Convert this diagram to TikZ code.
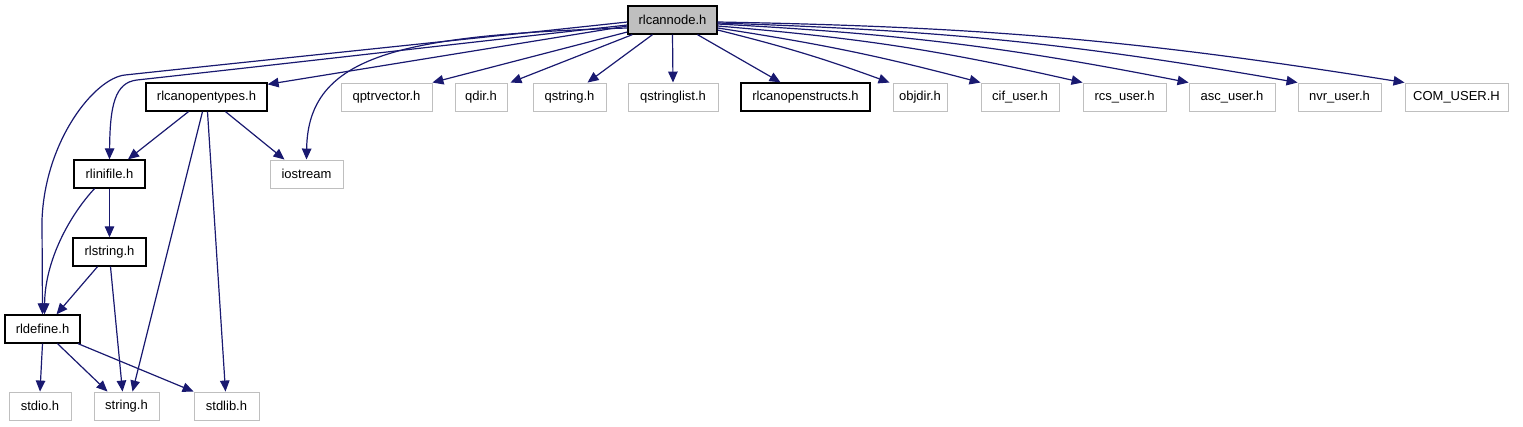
\documentclass[tikz,border=0pt]{standalone}
\usepackage{fontspec}
\setmainfont{Liberation Sans}
\usetikzlibrary{arrows.meta,calc}
\definecolor{edgeblue}{RGB}{25,25,112}
\definecolor{graybd}{RGB}{191,191,191}
\begin{document}
\begin{tikzpicture}[x=1pt,y=-1pt,
  box/.style={draw, rectangle, minimum height=28pt, inner sep=0pt, font=\fontsize{13}{15}\selectfont, line width=0.9pt},
  blk/.style={box, draw=black, line width=1.3pt},
  gry/.style={box, draw=graybd},
  rootbox/.style={blk, fill=graybd},
  edge/.style={draw=edgeblue, line width=1.2pt, -{Triangle[length=11pt,width=9.5pt]}}]
\useasboundingbox (0,0) rectangle (1523,427);
\node[rootbox, minimum width=89pt] (root) at (672.5,20) {rlcannode.h};
\node[blk, minimum width=121pt] (types) at (206.5,97) {rlcanopentypes.h};
\node[gry, minimum width=91pt] (qptr) at (386.5,97) {qptrvector.h};
\node[gry, minimum width=52pt] (qdir) at (481,97) {qdir.h};
\node[gry, minimum width=73pt] (qstring) at (569.5,97) {qstring.h};
\node[gry, minimum width=90pt] (qsl) at (673,97) {qstringlist.h};
\node[blk, minimum width=129pt] (structs) at (805.5,97) {rlcanopenstructs.h};
\node[gry, minimum width=54pt] (objdir) at (920,97) {objdir.h};
\node[gry, minimum width=78pt] (cif) at (1020,97) {cif\_user.h};
\node[gry, minimum width=83pt] (rcs) at (1124.5,97) {rcs\_user.h};
\node[gry, minimum width=86pt] (asc) at (1232,97) {asc\_user.h};
\node[gry, minimum width=83pt] (nvr) at (1339.5,97) {nvr\_user.h};
\node[gry, minimum width=103pt] (com) at (1456.5,97) {COM\_USER.H};
\node[blk, minimum width=71pt] (inifile) at (109.5,174) {rlinifile.h};
\node[gry, minimum width=73pt] (iostream) at (306.5,174) {iostream};
\node[blk, minimum width=73pt] (rlstring) at (109.5,252) {rlstring.h};
\node[blk, minimum width=75pt] (define) at (42.5,329) {rldefine.h};
\node[gry, minimum width=62pt] (stdio) at (40,406) {stdio.h};
\node[gry, minimum width=65pt] (string) at (126.5,406) {string.h};
\node[gry, minimum width=65pt] (stdlib) at (226.5,406) {stdlib.h};

% root to row 2
\draw[edge] ([yshift=-6pt]root.west) -- ([yshift=-2pt]types.north east);
\draw[edge] ([yshift=-12pt]root.west) -- (qptr.north east);
\draw[edge] ([xshift=5pt]root.south west) -- ([xshift=3pt]qdir.north east);
\draw[edge] ([xshift=-20pt]root.south) -- ([xshift=18pt]qstring.north);
\draw[edge] (root.south) -- (qsl.north);
\draw[edge] ([xshift=25pt]root.south) -- ([xshift=-25pt]structs.north);
\draw[edge] ([yshift=-10pt]root.east) to[bend left=3] ([xshift=-3pt]objdir.north west);
\draw[edge] ([yshift=-8pt]root.east) to[bend left=3] (cif.north west);
\draw[edge] ([yshift=-6pt]root.east) to[bend left=4] (rcs.north west);
\draw[edge] ([yshift=-4pt]root.east) to[bend left=4] (asc.north west);
\draw[edge] ([yshift=-3pt]root.east) to[bend left=4] (nvr.north west);
\draw[edge] ([yshift=-2pt]root.east) to[bend left=4] (com.north west);

% curved edges from root
\draw[edge] ([yshift=-2pt]root.west) .. controls (460,40) and (293,57) .. (125,75)
  .. controls (95,78) and (45,140) .. (42,220) -- (define.north);
\draw[edge] ([yshift=-5pt]root.west) .. controls (464,43) and (301,62) .. (137,80)
  .. controls (115,82.5) and (110,105) .. (inifile.north);
\draw[edge] ([yshift=-8pt]root.west) .. controls (400,35) and (308,55) .. (iostream.north);

% rlcanopentypes
\draw[edge] ([xshift=-18pt]types.south) -- ([xshift=18.5pt]inifile.north);
\draw[edge] ([xshift=19pt]types.south) -- ([xshift=-22pt]iostream.north);
\draw[edge] ([xshift=-4pt]types.south) -- ([xshift=6pt]string.north);
\draw[edge] ([xshift=1pt]types.south) -- ([xshift=-1pt]stdlib.north);

% rlinifile
\draw[edge] (inifile.south) -- (rlstring.north);
\draw[edge] ([xshift=-15pt]inifile.south) .. controls (70,215) and (45,260) .. ([xshift=2pt]define.north);

% rlstring
\draw[edge] ([xshift=-12pt]rlstring.south) -- ([xshift=14pt]define.north);
\draw[edge] ([xshift=1pt]rlstring.south) -- ([xshift=-4pt]string.north);

% rldefine
\draw[edge] (define.south) -- (stdio.north);
\draw[edge] ([xshift=15pt]define.south) -- ([xshift=-19pt]string.north);
\draw[edge] ([xshift=35.5pt]define.south) -- (stdlib.north west);
\end{tikzpicture}
\end{document}
